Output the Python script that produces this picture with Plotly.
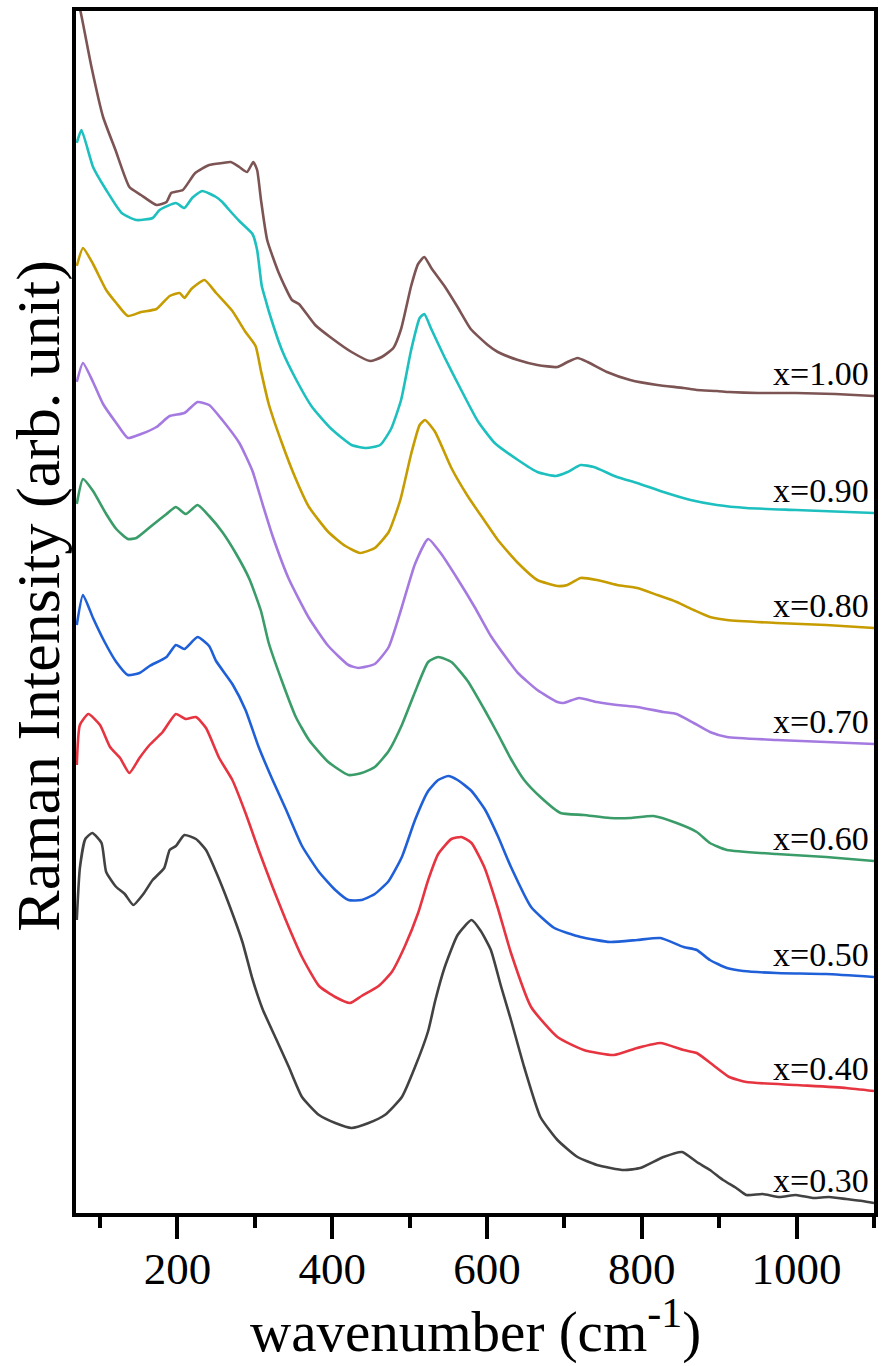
import plotly.graph_objects as go

# Raman spectra, stacked with vertical offsets (arb. unit)
labels = ["x=1.00", "x=0.90", "x=0.80", "x=0.70", "x=0.60", "x=0.50", "x=0.40", "x=0.30"]
colors = ["#7d5454", "#1dbfbf", "#c69c00", "#a57ae0", "#3a9c68", "#1f60d8", "#e63440", "#424242"]

wn_100 = [71, 75, 89, 104, 120, 138, 153, 173, 186, 192, 207, 223, 241, 258, 269, 280, 290, 298, 303, 308,
          316, 331, 348, 357, 378, 399, 425, 449, 464, 479, 489, 502, 511, 519, 528, 545, 562, 579, 601, 614,
          640, 665, 691, 704, 717, 730, 755, 785, 820, 854, 871, 897, 913, 950, 999, 1050, 1100]
int_100 = [1212, 1201, 1146, 1096, 1063, 1026, 1018, 1008, 1011, 1020, 1023, 1040, 1048, 1050, 1051, 1046, 1041, 1051, 1043, 1013,
           973, 940, 913, 909, 888, 875, 861, 852, 856, 865, 884, 927, 949, 956, 945, 927, 906, 884, 868, 861,
           853, 848, 846, 851, 855, 851, 841, 833, 828, 825, 823, 822, 821, 820, 820, 819, 817]

wn_090 = [70, 76, 91, 108, 128, 147, 168, 177, 198, 209, 219, 232, 250, 258, 267, 280, 297, 303, 309, 314,
          318, 335, 353, 374, 399, 425, 444, 462, 476, 489, 502, 513, 519, 528, 545, 566, 588, 610, 640, 665,
          689, 704, 721, 738, 768, 794, 828, 863, 897, 935, 999, 1100]
int_090 = [1070, 1083, 1046, 1023, 1000, 993, 995, 1003, 1010, 1005, 1015, 1022, 1016, 1011, 1003, 992, 979, 963, 927, 913,
           902, 863, 834, 806, 784, 768, 765, 768, 784, 813, 863, 895, 899, 884, 856, 824, 792, 770, 753, 741,
           737, 741, 748, 746, 736, 730, 721, 713, 708, 705, 703, 700]

wn_080 = [70, 78, 91, 108, 121, 136, 153, 173, 190, 203, 209, 218, 235, 250, 271, 288, 301, 308, 318, 335,
          353, 370, 395, 417, 436, 455, 473, 488, 502, 513, 520, 533, 554, 575, 597, 614, 640, 665, 691, 704,
          721, 742, 768, 794, 820, 845, 867, 888, 910, 974, 1038, 1100]
int_080 = [947, 965, 949, 923, 910, 897, 901, 904, 917, 920, 915, 924, 933, 920, 902, 881, 867, 842, 809, 770,
           734, 706, 681, 667, 660, 665, 681, 713, 759, 788, 793, 781, 745, 717, 692, 673, 650, 633, 627, 628,
           635, 633, 628, 625, 618, 611, 603, 596, 593, 590, 588, 585]

wn_070 = [70, 78, 91, 104, 121, 136, 153, 173, 190, 209, 226, 241, 258, 280, 297, 310, 323, 344, 370, 395,
          421, 434, 455, 473, 490, 507, 524, 541, 562, 584, 605, 627, 640, 665, 691, 699, 719, 742, 768, 794,
          828, 845, 867, 888, 910, 974, 1038, 1100]
int_070 = [831, 850, 831, 809, 790, 775, 779, 786, 797, 800, 811, 808, 793, 770, 742, 709, 677, 634, 595, 567,
           548, 545, 549, 566, 606, 649, 674, 659, 634, 606, 577, 553, 540, 523, 511, 510, 515, 511, 508, 506,
           501, 499, 490, 481, 476, 473, 471, 469]

wn_060 = [70, 78, 91, 108, 121, 136, 147, 168, 186, 198, 211, 226, 241, 258, 276, 293, 308, 318, 335, 353,
          370, 395, 421, 438, 455, 473, 490, 507, 524, 537, 554, 575, 597, 614, 631, 648, 669, 695, 725, 759,
          785, 815, 845, 871, 888, 910, 974, 1038, 1100]
int_060 = [709, 734, 722, 699, 684, 674, 675, 688, 699, 706, 699, 708, 697, 681, 659, 634, 602, 570, 532, 496,
           473, 451, 438, 440, 446, 462, 488, 521, 551, 556, 551, 532, 503, 479, 454, 433, 416, 400, 398, 395,
           395, 397, 390, 381, 370, 363, 359, 356, 352]

wn_050 = [70, 78, 91, 106, 121, 136, 151, 164, 186, 198, 209, 226, 241, 250, 271, 288, 305, 323, 340, 361,
          383, 404, 421, 438, 455, 473, 490, 507, 524, 537, 550, 562, 580, 597, 614, 631, 657, 687, 721, 759,
          794, 824, 854, 871, 888, 910, 931, 974, 1038, 1100]
int_050 = [588, 618, 595, 571, 551, 538, 540, 547, 556, 568, 564, 576, 567, 552, 529, 503, 466, 433, 404, 367,
           341, 323, 313, 313, 319, 332, 356, 393, 422, 433, 437, 433, 422, 404, 377, 346, 306, 285, 276, 271,
           273, 275, 266, 263, 253, 245, 242, 240, 239, 236]

wn_040 = [70, 74, 85, 100, 113, 126, 138, 151, 164, 181, 198, 211, 224, 237, 254, 271, 288, 305, 323, 340,
          361, 383, 404, 423, 438, 460, 477, 494, 511, 524, 537, 554, 567, 580, 597, 614, 631, 657, 691, 725,
          764, 794, 824, 854, 871, 892, 913, 935, 999, 1064, 1100]
int_040 = [448, 488, 499, 488, 466, 455, 440, 455, 468, 481, 499, 494, 496, 485, 455, 433, 400, 363, 326, 293,
           256, 227, 216, 210, 217, 227, 241, 267, 300, 333, 359, 374, 376, 370, 345, 305, 260, 206, 176, 163,
           158, 165, 170, 163, 160, 148, 136, 131, 128, 125, 122]

wn_030 = [70, 74, 81, 90, 102, 108, 121, 132, 143, 156, 168, 183, 190, 198, 209, 224, 237, 250, 267, 284,
          297, 310, 327, 344, 361, 383, 404, 425, 447, 468, 490, 507, 524, 533, 545, 562, 580, 592, 605, 618,
          631, 648, 669, 691, 717, 742, 777, 798, 828, 852, 871, 888, 905, 922, 935, 956, 978, 999, 1021, 1042,
          1064, 1085, 1100]
int_030 = [293, 345, 374, 380, 370, 341, 326, 319, 308, 319, 333, 345, 363, 367, 378, 374, 363, 341, 308, 271,
           234, 204, 175, 146, 116, 98, 90, 85, 90, 98, 116, 146, 182, 212, 245, 278, 293, 282, 263, 227,
           193, 146, 96, 73, 56, 48, 43, 45, 56, 61, 51, 43, 33, 25, 18, 19, 16, 18, 15, 16,
           14, 12, 10]

series = [(wn_100, int_100), (wn_090, int_090), (wn_080, int_080), (wn_070, int_070),
          (wn_060, int_060), (wn_050, int_050), (wn_040, int_040), (wn_030, int_030)]

serif = "Liberation Serif, Times New Roman, serif"

fig = go.Figure()
for (wn, inten), name, col in zip(series, labels, colors):
    fig.add_trace(go.Scatter(x=wn, y=inten, mode="lines", name=name,
                             line=dict(color=col, width=2.6, shape="spline", smoothing=0.5),
                             showlegend=False, hoverinfo="skip"))

annotations = []
# sample labels sit just above the right-hand end of each spectrum
for (wn, inten), name in zip(series, labels):
    annotations.append(dict(x=0.996, xref="paper", xanchor="right",
                            y=inten[-1] + 23, yref="y", yanchor="middle",
                            text=name, showarrow=False,
                            font=dict(family=serif, size=34, color="black")))

annotations.append(dict(x=0.5, xref="paper", xanchor="center",
                        y=-0.1273, yref="paper", yanchor="bottom",
                        text="wavenumber (cm<sup><span style='font-size:42px'>-1</span></sup>)",
                        showarrow=False,
                        font=dict(family=serif, size=57, color="black")))
annotations.append(dict(x=-0.047, xref="paper", xanchor="center",
                        y=0.514, yref="paper", yanchor="middle",
                        text="Raman Intensity (arb. unit)", textangle=-90, showarrow=False,
                        font=dict(family=serif, size=62, color="black")))

fig.update_layout(
    width=881, height=1366,
    margin=dict(l=76, r=3, t=11, b=153),
    paper_bgcolor="white", plot_bgcolor="white",
    annotations=annotations,
    xaxis=dict(range=[69, 1100], showgrid=False, zeroline=False,
               showline=True, linewidth=4, linecolor="black", mirror=True,
               tickmode="array", tickvals=[200, 400, 600, 800, 1000],
               ticks="outside", ticklen=22, tickwidth=3.5, tickcolor="black",
               ticklabelstandoff=-9,
               tickfont=dict(family=serif, size=45, color="black"),
               minor=dict(tickmode="array", tickvals=[100, 300, 500, 700, 900, 1100],
                          ticks="outside", ticklen=11, tickwidth=3.5, tickcolor="black")),
    yaxis=dict(range=[0, 1202], showgrid=False, zeroline=False, showticklabels=False,
               ticks="", showline=True, linewidth=4, linecolor="black", mirror=True),
)

fig.write_html("out.html")
